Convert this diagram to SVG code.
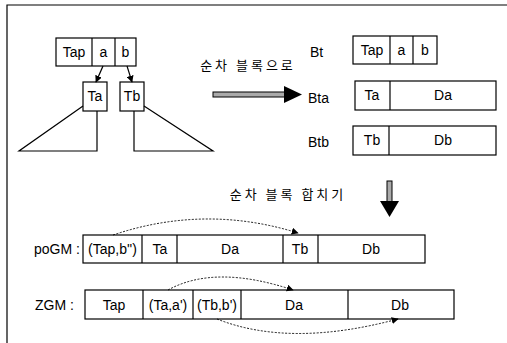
<svg xmlns="http://www.w3.org/2000/svg" width="507" height="343" viewBox="0 0 507 343">
<defs>
<style>
.box{fill:#fff;stroke:#000;stroke-width:1.2}
.ln{fill:none;stroke:#000;stroke-width:1.2}
.t{font-family:"Liberation Sans",Arial,sans-serif;font-size:14px;fill:#000;text-anchor:middle}
.tl{font-family:"Liberation Sans",Arial,sans-serif;font-size:14px;fill:#000}
.k{font-family:"Noto Sans CJK KR",sans-serif;font-size:13px;fill:#000;text-anchor:middle;letter-spacing:3px}
.dash{fill:none;stroke:#000;stroke-width:0.9;stroke-dasharray:2 1.5}
</style>
<marker id="ah" viewBox="0 0 10 10" refX="9" refY="5" markerWidth="7" markerHeight="7" orient="auto" markerUnits="userSpaceOnUse">
<path d="M0,0 L10,5 L0,10 z" fill="#000"/>
</marker>
</defs>
<rect x="0" y="0" width="507" height="343" fill="#fff"/>
<path class="ln" d="M7,343 V5 H507"/>

<g id="tree-root">
<rect class="box" x="56" y="38" width="80" height="28"/>
<line class="ln" x1="92" y1="38" x2="92" y2="66"/>
<line class="ln" x1="115" y1="38" x2="115" y2="66"/>
<text class="t" x="74" y="57">Tap</text>
<text class="t" x="103.5" y="57">a</text>
<text class="t" x="125.5" y="57">b</text>
</g>
<g id="tree-Ta">
<rect class="box" x="83" y="82" width="24" height="29"/>
<text class="t" x="95" y="101">Ta</text>
<path class="ln" d="M83,106 L19,151 H97 V111"/>
</g>
<g id="tree-Tb">
<rect class="box" x="120" y="82" width="24" height="29"/>
<text class="t" x="132" y="101">Tb</text>
<path class="ln" d="M144,106 L213,151 H134 V111"/>
</g>

<g id="label-seq">
<text class="k" x="248" y="70">순차 블록으로</text>
</g>

<g id="Bt">
<text class="tl" x="310" y="57">Bt</text>
<rect class="box" x="353" y="36" width="84" height="28"/>
<line class="ln" x1="390" y1="36" x2="390" y2="64"/>
<line class="ln" x1="413" y1="36" x2="413" y2="64"/>
<text class="t" x="372" y="55">Tap</text>
<text class="t" x="401.5" y="55">a</text>
<text class="t" x="425" y="55">b</text>
</g>
<g id="Bta">
<text class="tl" x="308" y="103">Bta</text>
<rect class="box" x="355" y="81" width="141" height="29"/>
<line class="ln" x1="390" y1="81" x2="390" y2="110"/>
<text class="t" x="372" y="100">Ta</text>
<text class="t" x="443" y="100">Da</text>
</g>
<g id="Btb">
<text class="tl" x="308" y="147">Btb</text>
<rect class="box" x="353" y="126" width="143" height="29"/>
<line class="ln" x1="389" y1="126" x2="389" y2="155"/>
<text class="t" x="372" y="145">Tb</text>
<text class="t" x="443" y="145">Db</text>
</g>

<g id="label-merge">
<text class="k" x="288" y="199">순차 블록 합치기</text>
</g>

<g id="poGM">
<text class="tl" x="34" y="254">poGM :</text>
<rect class="box" x="83" y="235" width="342" height="28"/>
<line class="ln" x1="142" y1="235" x2="142" y2="263"/>
<line class="ln" x1="177" y1="235" x2="177" y2="263"/>
<line class="ln" x1="283" y1="235" x2="283" y2="263"/>
<line class="ln" x1="318" y1="235" x2="318" y2="263"/>
<text class="t" x="112.5" y="254">(Tap,b'')</text>
<text class="t" x="160" y="254">Ta</text>
<text class="t" x="230" y="254">Da</text>
<text class="t" x="300" y="254">Tb</text>
<text class="t" x="371" y="254">Db</text>
</g>

<g id="ZGM">
<text class="tl" x="35" y="310">ZGM :</text>
<rect class="box" x="85" y="290" width="369" height="29"/>
<line class="ln" x1="143" y1="290" x2="143" y2="319"/>
<line class="ln" x1="193" y1="290" x2="193" y2="319"/>
<line class="ln" x1="241" y1="290" x2="241" y2="319"/>
<line class="ln" x1="348" y1="290" x2="348" y2="319"/>
<text class="t" x="114" y="310">Tap</text>
<text class="t" x="168" y="310">(Ta,a')</text>
<text class="t" x="217" y="310">(Tb,b')</text>
<text class="t" x="294" y="310">Da</text>
<text class="t" x="400" y="310">Db</text>
</g>

<g id="connectors">
<line class="ln" x1="103" y1="66" x2="96" y2="82" marker-end="url(#ah)"/>
<line class="ln" x1="127" y1="66" x2="132" y2="82" marker-end="url(#ah)"/>
<rect x="213" y="92" width="73" height="5" fill="#aaa" stroke="#000" stroke-width="1"/>
<polygon points="284,86 302,94.5 284,103" fill="#000"/>
<rect x="387" y="181" width="5" height="21" fill="#aaa" stroke="#000" stroke-width="1"/>
<polygon points="380,201 399,201 389.5,217" fill="#000"/>
<path class="dash" d="M113,235 Q205,204 298,233" marker-end="url(#ah)"/>
<path class="dash" d="M168,290 Q215,264 293,290" marker-end="url(#ah)"/>
<path class="dash" d="M217,319 Q290,348 398,319" marker-end="url(#ah)"/>
</g>
</svg>
